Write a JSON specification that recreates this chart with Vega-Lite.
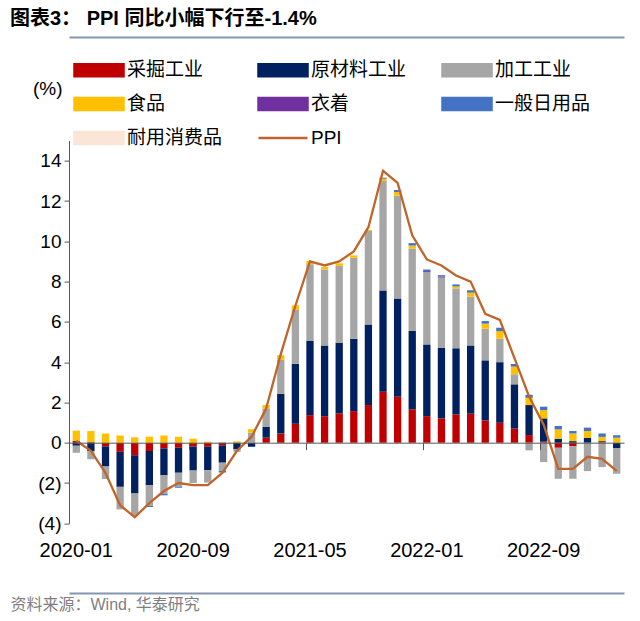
{
  "$schema": "https://vega.github.io/schema/vega-lite/v6.json",
  "autosize": {"type": "none"},
  "width": 555,
  "height": 382.7,
  "padding": {"left": 69, "top": 140.6, "right": 16, "bottom": 97.7},
  "background": "white",
  "config": {
    "view": {"stroke": null},
    "axis": {"grid": false},
    "font": "Liberation Sans, Noto Sans CJK SC, sans-serif"
  },
  "title": {
    "text": "图表3：  PPI 同比小幅下行至-1.4%",
    "anchor": "start",
    "frame": "group",
    "dx": -59,
    "offset": 8,
    "fontSize": 20,
    "fontWeight": "bold",
    "color": "#000000"
  },
  "datasets": {
    "bars": [
      {"m": "2020-01", "c": "采掘工业", "v": 0.1},
      {"m": "2020-01", "c": "原材料工业", "v": -0.15},
      {"m": "2020-01", "c": "加工工业", "v": -0.35},
      {"m": "2020-01", "c": "食品", "v": 0.5},
      {"m": "2020-02", "c": "采掘工业", "v": 0.03},
      {"m": "2020-02", "c": "原材料工业", "v": -0.42},
      {"m": "2020-02", "c": "加工工业", "v": -0.4},
      {"m": "2020-02", "c": "食品", "v": 0.55},
      {"m": "2020-03", "c": "采掘工业", "v": -0.18},
      {"m": "2020-03", "c": "原材料工业", "v": -1.0},
      {"m": "2020-03", "c": "加工工业", "v": -0.62},
      {"m": "2020-03", "c": "食品", "v": 0.46},
      {"m": "2020-04", "c": "采掘工业", "v": -0.45},
      {"m": "2020-04", "c": "原材料工业", "v": -1.74},
      {"m": "2020-04", "c": "加工工业", "v": -1.12},
      {"m": "2020-04", "c": "食品", "v": 0.36},
      {"m": "2020-05", "c": "采掘工业", "v": -0.62},
      {"m": "2020-05", "c": "原材料工业", "v": -1.9},
      {"m": "2020-05", "c": "加工工业", "v": -1.1},
      {"m": "2020-05", "c": "食品", "v": 0.27},
      {"m": "2020-06", "c": "采掘工业", "v": -0.41},
      {"m": "2020-06", "c": "原材料工业", "v": -1.69},
      {"m": "2020-06", "c": "加工工业", "v": -1.04},
      {"m": "2020-06", "c": "食品", "v": 0.3},
      {"m": "2020-06", "c": "一般日用品", "v": -0.05},
      {"m": "2020-07", "c": "采掘工业", "v": -0.28},
      {"m": "2020-07", "c": "原材料工业", "v": -1.34},
      {"m": "2020-07", "c": "加工工业", "v": -0.92},
      {"m": "2020-07", "c": "食品", "v": 0.36},
      {"m": "2020-07", "c": "一般日用品", "v": -0.07},
      {"m": "2020-08", "c": "采掘工业", "v": -0.25},
      {"m": "2020-08", "c": "原材料工业", "v": -1.24},
      {"m": "2020-08", "c": "加工工业", "v": -0.68},
      {"m": "2020-08", "c": "食品", "v": 0.3},
      {"m": "2020-08", "c": "一般日用品", "v": -0.07},
      {"m": "2020-09", "c": "采掘工业", "v": -0.19},
      {"m": "2020-09", "c": "原材料工业", "v": -1.19},
      {"m": "2020-09", "c": "加工工业", "v": -0.62},
      {"m": "2020-09", "c": "食品", "v": 0.2},
      {"m": "2020-10", "c": "采掘工业", "v": -0.2},
      {"m": "2020-10", "c": "原材料工业", "v": -1.16},
      {"m": "2020-10", "c": "加工工业", "v": -0.62},
      {"m": "2020-10", "c": "食品", "v": 0.05},
      {"m": "2020-11", "c": "采掘工业", "v": -0.13},
      {"m": "2020-11", "c": "原材料工业", "v": -0.86},
      {"m": "2020-11", "c": "加工工业", "v": -0.41},
      {"m": "2020-11", "c": "一般日用品", "v": -0.08},
      {"m": "2020-12", "c": "原材料工业", "v": -0.33},
      {"m": "2020-12", "c": "加工工业", "v": -0.12},
      {"m": "2020-12", "c": "食品", "v": 0.07},
      {"m": "2021-01", "c": "原材料工业", "v": -0.2},
      {"m": "2021-01", "c": "加工工业", "v": 0.5},
      {"m": "2021-01", "c": "食品", "v": 0.17},
      {"m": "2021-02", "c": "采掘工业", "v": 0.25},
      {"m": "2021-02", "c": "原材料工业", "v": 0.55},
      {"m": "2021-02", "c": "加工工业", "v": 0.9},
      {"m": "2021-02", "c": "食品", "v": 0.17},
      {"m": "2021-03", "c": "采掘工业", "v": 0.46},
      {"m": "2021-03", "c": "原材料工业", "v": 1.97},
      {"m": "2021-03", "c": "加工工业", "v": 1.7},
      {"m": "2021-03", "c": "食品", "v": 0.22},
      {"m": "2021-04", "c": "采掘工业", "v": 0.94},
      {"m": "2021-04", "c": "原材料工业", "v": 2.98},
      {"m": "2021-04", "c": "加工工业", "v": 2.7},
      {"m": "2021-04", "c": "食品", "v": 0.2},
      {"m": "2021-05", "c": "采掘工业", "v": 1.37},
      {"m": "2021-05", "c": "原材料工业", "v": 3.68},
      {"m": "2021-05", "c": "加工工业", "v": 3.81},
      {"m": "2021-05", "c": "食品", "v": 0.17},
      {"m": "2021-06", "c": "采掘工业", "v": 1.32},
      {"m": "2021-06", "c": "原材料工业", "v": 3.51},
      {"m": "2021-06", "c": "加工工业", "v": 3.77},
      {"m": "2021-06", "c": "食品", "v": 0.13},
      {"m": "2021-07", "c": "采掘工业", "v": 1.46},
      {"m": "2021-07", "c": "原材料工业", "v": 3.51},
      {"m": "2021-07", "c": "加工工业", "v": 3.81},
      {"m": "2021-07", "c": "食品", "v": 0.13},
      {"m": "2021-08", "c": "采掘工业", "v": 1.57},
      {"m": "2021-08", "c": "原材料工业", "v": 3.59},
      {"m": "2021-08", "c": "加工工业", "v": 4.02},
      {"m": "2021-08", "c": "食品", "v": 0.12},
      {"m": "2021-09", "c": "采掘工业", "v": 1.87},
      {"m": "2021-09", "c": "原材料工业", "v": 4.0},
      {"m": "2021-09", "c": "加工工业", "v": 4.64},
      {"m": "2021-09", "c": "食品", "v": 0.05},
      {"m": "2021-10", "c": "采掘工业", "v": 2.53},
      {"m": "2021-10", "c": "原材料工业", "v": 5.03},
      {"m": "2021-10", "c": "加工工业", "v": 5.43},
      {"m": "2021-10", "c": "食品", "v": 0.12},
      {"m": "2021-10", "c": "一般日用品", "v": 0.05},
      {"m": "2021-11", "c": "采掘工业", "v": 2.28},
      {"m": "2021-11", "c": "原材料工业", "v": 4.88},
      {"m": "2021-11", "c": "加工工业", "v": 5.12},
      {"m": "2021-11", "c": "食品", "v": 0.17},
      {"m": "2021-11", "c": "一般日用品", "v": 0.1},
      {"m": "2021-12", "c": "采掘工业", "v": 1.66},
      {"m": "2021-12", "c": "原材料工业", "v": 3.89},
      {"m": "2021-12", "c": "加工工业", "v": 4.09},
      {"m": "2021-12", "c": "食品", "v": 0.15},
      {"m": "2021-12", "c": "一般日用品", "v": 0.12},
      {"m": "2022-01", "c": "采掘工业", "v": 1.32},
      {"m": "2022-01", "c": "原材料工业", "v": 3.56},
      {"m": "2022-01", "c": "加工工业", "v": 3.59},
      {"m": "2022-01", "c": "衣着", "v": 0.05},
      {"m": "2022-01", "c": "一般日用品", "v": 0.08},
      {"m": "2022-02", "c": "采掘工业", "v": 1.21},
      {"m": "2022-02", "c": "原材料工业", "v": 3.51},
      {"m": "2022-02", "c": "加工工业", "v": 3.48},
      {"m": "2022-02", "c": "衣着", "v": 0.05},
      {"m": "2022-02", "c": "一般日用品", "v": 0.07},
      {"m": "2022-03", "c": "采掘工业", "v": 1.41},
      {"m": "2022-03", "c": "原材料工业", "v": 3.28},
      {"m": "2022-03", "c": "加工工业", "v": 2.97},
      {"m": "2022-03", "c": "食品", "v": 0.1},
      {"m": "2022-03", "c": "一般日用品", "v": 0.1},
      {"m": "2022-04", "c": "采掘工业", "v": 1.44},
      {"m": "2022-04", "c": "原材料工业", "v": 3.39},
      {"m": "2022-04", "c": "加工工业", "v": 2.42},
      {"m": "2022-04", "c": "食品", "v": 0.2},
      {"m": "2022-04", "c": "一般日用品", "v": 0.12},
      {"m": "2022-05", "c": "采掘工业", "v": 1.11},
      {"m": "2022-05", "c": "原材料工业", "v": 2.98},
      {"m": "2022-05", "c": "加工工业", "v": 1.57},
      {"m": "2022-05", "c": "食品", "v": 0.25},
      {"m": "2022-05", "c": "一般日用品", "v": 0.13},
      {"m": "2022-06", "c": "采掘工业", "v": 0.99},
      {"m": "2022-06", "c": "原材料工业", "v": 3.01},
      {"m": "2022-06", "c": "加工工业", "v": 1.16},
      {"m": "2022-06", "c": "食品", "v": 0.38},
      {"m": "2022-06", "c": "一般日用品", "v": 0.17},
      {"m": "2022-07", "c": "采掘工业", "v": 0.7},
      {"m": "2022-07", "c": "原材料工业", "v": 2.2},
      {"m": "2022-07", "c": "加工工业", "v": 0.5},
      {"m": "2022-07", "c": "食品", "v": 0.38},
      {"m": "2022-07", "c": "一般日用品", "v": 0.13},
      {"m": "2022-08", "c": "采掘工业", "v": 0.38},
      {"m": "2022-08", "c": "原材料工业", "v": 1.49},
      {"m": "2022-08", "c": "加工工业", "v": -0.38},
      {"m": "2022-08", "c": "食品", "v": 0.36},
      {"m": "2022-08", "c": "一般日用品", "v": 0.15},
      {"m": "2022-09", "c": "采掘工业", "v": 0.05},
      {"m": "2022-09", "c": "原材料工业", "v": 1.16},
      {"m": "2022-09", "c": "加工工业", "v": -0.96},
      {"m": "2022-09", "c": "食品", "v": 0.41},
      {"m": "2022-09", "c": "一般日用品", "v": 0.17},
      {"m": "2022-10", "c": "采掘工业", "v": -0.25},
      {"m": "2022-10", "c": "原材料工业", "v": 0.2},
      {"m": "2022-10", "c": "加工工业", "v": -1.54},
      {"m": "2022-10", "c": "食品", "v": 0.46},
      {"m": "2022-10", "c": "一般日用品", "v": 0.17},
      {"m": "2022-11", "c": "采掘工业", "v": -0.17},
      {"m": "2022-11", "c": "原材料工业", "v": 0.08},
      {"m": "2022-11", "c": "加工工业", "v": -1.62},
      {"m": "2022-11", "c": "食品", "v": 0.38},
      {"m": "2022-11", "c": "一般日用品", "v": 0.12},
      {"m": "2022-12", "c": "原材料工业", "v": 0.25},
      {"m": "2022-12", "c": "加工工业", "v": -1.41},
      {"m": "2022-12", "c": "食品", "v": 0.33},
      {"m": "2022-12", "c": "一般日用品", "v": 0.17},
      {"m": "2023-01", "c": "采掘工业", "v": 0.04},
      {"m": "2023-01", "c": "原材料工业", "v": 0.04},
      {"m": "2023-01", "c": "加工工业", "v": -1.21},
      {"m": "2023-01", "c": "食品", "v": 0.21},
      {"m": "2023-01", "c": "一般日用品", "v": 0.17},
      {"m": "2023-02", "c": "原材料工业", "v": -0.28},
      {"m": "2023-02", "c": "加工工业", "v": -1.26},
      {"m": "2023-02", "c": "食品", "v": 0.25},
      {"m": "2023-02", "c": "一般日用品", "v": 0.12}
    ],
    "ppi": [
      {"m": "2020-01", "v": 0.1},
      {"m": "2020-02", "v": -0.4},
      {"m": "2020-03", "v": -1.5},
      {"m": "2020-04", "v": -3.1},
      {"m": "2020-05", "v": -3.7},
      {"m": "2020-06", "v": -3.0},
      {"m": "2020-07", "v": -2.4},
      {"m": "2020-08", "v": -2.0},
      {"m": "2020-09", "v": -2.1},
      {"m": "2020-10", "v": -2.1},
      {"m": "2020-11", "v": -1.5},
      {"m": "2020-12", "v": -0.4},
      {"m": "2021-01", "v": 0.3},
      {"m": "2021-02", "v": 1.7},
      {"m": "2021-03", "v": 4.4},
      {"m": "2021-04", "v": 6.8},
      {"m": "2021-05", "v": 9.0},
      {"m": "2021-06", "v": 8.8},
      {"m": "2021-07", "v": 9.0},
      {"m": "2021-08", "v": 9.5},
      {"m": "2021-09", "v": 10.7},
      {"m": "2021-10", "v": 13.5},
      {"m": "2021-11", "v": 12.9},
      {"m": "2021-12", "v": 10.3},
      {"m": "2022-01", "v": 9.1},
      {"m": "2022-02", "v": 8.8},
      {"m": "2022-03", "v": 8.3},
      {"m": "2022-04", "v": 8.0},
      {"m": "2022-05", "v": 6.4},
      {"m": "2022-06", "v": 6.1},
      {"m": "2022-07", "v": 4.2},
      {"m": "2022-08", "v": 2.3},
      {"m": "2022-09", "v": 0.9},
      {"m": "2022-10", "v": -1.3},
      {"m": "2022-11", "v": -1.3},
      {"m": "2022-12", "v": -0.7},
      {"m": "2023-01", "v": -0.8},
      {"m": "2023-02", "v": -1.4}
    ]
  },
  "resolve": {"axis": {"x": "independent", "y": "independent"}},
  "layer": [
    {
      "data": {"name": "bars"},
      "transform": [
        {"calculate": "datum.c === '采掘工业' ? 0 : datum.c === '原材料工业' ? 1 : datum.c === '加工工业' ? 2 : datum.c === '食品' ? 3 : datum.c === '衣着' ? 4 : datum.c === '一般日用品' ? 5 : 6", "as": "o"}
      ],
      "mark": {"type": "bar"},
      "encoding": {
        "x": {
          "field": "m", "type": "ordinal",
          "scale": {"paddingInner": 0.5, "paddingOuter": 0.25},
          "axis": {
            "orient": "bottom",
            "values": ["2020-01", "2020-09", "2021-05", "2022-01", "2022-09"],
            "labelAngle": 0,
            "labelFontSize": 20,
            "labelColor": "#000000",
            "labelPadding": 17,
            "ticks": false,
            "domain": false,
            "title": null
          }
        },
        "y": {
          "field": "v", "type": "quantitative", "stack": "zero",
          "scale": {"domain": [-4, 15], "nice": false},
          "axis": {
            "orient": "left",
            "values": [-4, -2, 0, 2, 4, 6, 8, 10, 12, 14],
            "labelExpr": "datum.value < 0 ? '(' + abs(datum.value) + ')' : datum.label",
            "labelFontSize": 19,
            "labelColor": "#000000",
            "labelPadding": 3,
            "ticks": true,
            "tickSize": 5,
            "tickColor": "#595959",
            "domain": true,
            "domainColor": "#595959",
            "title": "(%)",
            "titleAngle": 0,
            "titleX": -7,
            "titleY": -52,
            "titleAlign": "right",
            "titleBaseline": "middle",
            "titleFontSize": 19,
            "titleFontWeight": "normal",
            "titleColor": "#000000"
          }
        },
        "color": {
          "field": "c", "type": "nominal",
          "scale": {
            "domain": ["采掘工业", "原材料工业", "加工工业", "食品", "衣着", "一般日用品", "耐用消费品", "PPI"],
            "range": ["#C00000", "#002060", "#A6A6A6", "#FFC000", "#7030A0", "#4472C4", "#FBE5D6", "#C0652A"]
          },
          "legend": {
            "orient": "none",
            "legendX": 2,
            "legendY": -80,
            "direction": "horizontal",
            "columns": 3,
            "title": null,
            "padding": 0,
            "rowPadding": 11,
            "columnPadding": 30,
            "labelFontSize": 19,
            "labelColor": "#000000",
            "labelOffset": 37,
            "labelLimit": 300,
            "symbolSize": 144,
            "symbolType": "M-1,-1H7.17V1H-1Z",
            "encode": {
              "symbols": {
                "update": {
                  "shape": {"signal": "datum.value === 'PPI' ? 'M-1,0H7.17' : 'M-1,-1H7.17V1H-1Z'"},
                  "fill": {"signal": "datum.value === 'PPI' ? 'transparent' : scale('color', datum.value)"},
                  "stroke": {"signal": "datum.value === 'PPI' ? '#C0652A' : 'transparent'"},
                  "strokeWidth": {"value": 2.5},
                  "size": {"value": 144},
                  "opacity": {"value": 1}
                }
              }
            }
          }
        },
        "order": {"field": "o", "type": "quantitative"}
      }
    },
    {
      "data": {"name": "ppi"},
      "mark": {"type": "line", "strokeWidth": 2.3},
      "encoding": {
        "x": {
          "field": "m", "type": "ordinal",
          "axis": {
            "orient": "bottom",
            "offset": -80.6,
            "values": ["2020-09", "2021-05", "2022-01", "2022-09"],
            "bandPosition": 0,
            "labels": false,
            "ticks": true,
            "tickSize": 7,
            "tickColor": "#595959",
            "domain": true,
            "domainColor": "#595959",
            "title": null,
            "zindex": 1
          }
        },
        "y": {"field": "v", "type": "quantitative", "axis": null},
        "color": {"datum": "PPI"}
      }
    },
    {
      "data": {"name": "ppi"},
      "mark": {"type": "point", "opacity": 0},
      "encoding": {
        "x": {
          "field": "m", "type": "ordinal",
          "axis": {
            "orient": "top",
            "offset": 103.6,
            "labels": false,
            "ticks": true,
            "tickSize": 0,
            "tickOpacity": 0,
            "domain": true,
            "domainColor": "#8497B0",
            "domainWidth": 2,
            "domainOpacity": 1,
            "title": null,
            "zindex": 1
          }
        }
      }
    },
    {
      "data": {"name": "ppi"},
      "mark": {"type": "point", "opacity": 0},
      "encoding": {
        "x": {
          "field": "m", "type": "ordinal",
          "axis": {
            "orient": "bottom",
            "offset": 69.7,
            "labels": false,
            "ticks": true,
            "tickSize": 0,
            "tickOpacity": 0,
            "domain": true,
            "domainColor": "#8497B0",
            "domainWidth": 2,
            "domainOpacity": 1,
            "title": "资料来源：Wind, 华泰研究",
            "titleX": -59,
            "titleY": 11,
            "titleAlign": "left",
            "titleAnchor": "start",
            "titleBaseline": "middle",
            "titleFontSize": 16,
            "titleFontWeight": "normal",
            "titleColor": "#7F7F7F",
            "zindex": 1
          }
        }
      }
    }
  ]
}
